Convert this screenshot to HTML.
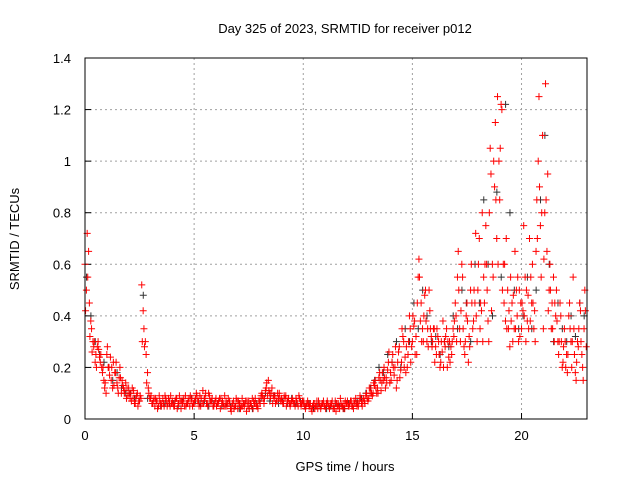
<!DOCTYPE html>
<html><head><meta charset="utf-8">
<style>
body{margin:0;background:#fff}
svg{display:block;font-family:"Liberation Sans",sans-serif;font-size:13px}
</style></head>
<body>
<svg id="chart" width="640" height="480" viewBox="0 0 640 480">
<rect width="640" height="480" fill="#fff"/>
<text x="345" y="33" text-anchor="middle">Day 325 of 2023, SRMTID for receiver p012</text>
<text x="345" y="471" text-anchor="middle">GPS time / hours</text>
<text transform="translate(19,239) rotate(-90)" text-anchor="middle">SRMTID / TECUs</text>
<g id="grid"></g>
<g id="axes"></g>
<g id="black"></g>
<g id="red"></g>
<rect x="85" y="58" width="502" height="361" fill="none" stroke="#000" stroke-width="1"/>
</svg>
<script>
const xTicks=[0,5,10,15,20];
const yTicks=[0,0.2,0.4,0.6,0.8,1,1.2,1.4];
const yTickLabels=["0","0.2","0.4","0.6","0.8","1","1.2","1.4"];
const startHour=0, stepHours=0.1;
const redA=[0.6,0.72,0.45,0.35,0.28,0.25,0.3,0.22,0.18,0.12,
0.25,0.2,0.15,0.22,0.18,0.12,0.2,0.15,0.1,0.08,
0.12,0.1,0.08,0.06,0.1,0.07,0.52,0.35,0.25,0.12,
0.08,0.06,0.05,0.07,0.09,0.05,0.06,0.08,0.06,0.05,
0.07,0.05,0.08,0.06,0.04,0.07,0.09,0.06,0.05,0.08,
0.06,0.1,0.07,0.05,0.11,0.08,0.06,0.09,0.07,0.05,
0.08,0.06,0.04,0.07,0.09,0.05,0.06,0.03,0.07,0.05,
0.04,0.06,0.08,0.05,0.03,0.07,0.06,0.04,0.08,0.05,
0.07,0.1,0.06,0.12,0.15,0.08,0.06,0.09,0.07,0.1,
0.08,0.06,0.09,0.07,0.05,0.08,0.06,0.07,0.09,0.05,
0.06,0.04,0.07,0.05,0.03,0.06,0.05,0.07,0.04,0.06,
0.05,0.07,0.04,0.06,0.05,0.03,0.06,0.08,0.05,0.04,
0.06,0.05,0.07,0.04,0.08,0.06,0.09,0.05,0.07,0.1,
0.08,0.12,0.1,0.15,0.12,0.18,0.14,0.2,0.16,0.22,
0.18,0.25,0.2,0.15,0.28,0.22,0.3,0.18,0.25,0.35,
0.3,0.38,0.25,0.62,0.45,0.3,0.5,0.35,0.42,0.28,
0.35,0.25,0.3,0.22,0.38,0.28,0.2,0.3,0.25,0.32,
0.4,0.65,0.3,0.55,0.25,0.45,0.32,0.6,0.38,0.72,
0.5,0.35,0.8,0.45,0.6,0.3,0.95,0.55,1.15,1.25,
0.85,1.2,0.45,0.7,0.35,0.55,0.3,0.65,0.4,0.5,
0.35,0.75,0.3,0.48,0.38,0.6,0.42,0.85,1.25,0.55,
0.35,1.3,0.95,0.6,0.45,0.3,0.5,0.25,0.4,0.22,
0.3,0.18,0.45,0.2,0.35,0.15,0.28,0.42,0.2,0.5];
const redB=[0.5,0.65,0.38,0.3,0.22,0.28,0.24,0.2,0.15,0.1,
0.2,0.24,0.12,0.18,0.14,0.16,0.1,0.12,0.14,0.09,
0.08,0.12,0.06,0.09,0.07,0.08,0.42,0.3,0.18,0.08,
0.06,0.08,0.07,0.05,0.06,0.08,0.09,0.05,0.07,0.06,
0.05,0.08,0.06,0.07,0.06,0.05,0.06,0.08,0.07,0.06,
0.08,0.07,0.09,0.06,0.08,0.06,0.1,0.07,0.05,0.07,
0.06,0.08,0.06,0.05,0.07,0.08,0.04,0.06,0.05,0.07,
0.06,0.05,0.06,0.07,0.05,0.06,0.08,0.06,0.05,0.07,
0.09,0.08,0.11,0.09,0.1,0.12,0.08,0.07,0.08,0.07,
0.06,0.08,0.07,0.06,0.07,0.06,0.08,0.05,0.06,0.07,
0.05,0.06,0.05,0.04,0.06,0.05,0.04,0.05,0.06,0.05,
0.06,0.05,0.06,0.04,0.07,0.05,0.04,0.05,0.06,0.06,
0.05,0.07,0.05,0.06,0.05,0.07,0.06,0.08,0.09,0.07,
0.1,0.09,0.13,0.1,0.16,0.11,0.15,0.12,0.19,0.14,
0.22,0.17,0.12,0.26,0.19,0.32,0.24,0.2,0.4,0.28,
0.36,0.32,0.55,0.38,0.35,0.48,0.3,0.5,0.32,0.35,
0.28,0.32,0.2,0.26,0.3,0.35,0.24,0.28,0.35,0.45,
0.55,0.35,0.6,0.28,0.4,0.22,0.5,0.35,0.45,0.3,
0.7,0.42,0.55,0.75,0.38,1.05,0.6,0.9,0.7,1.0,
1.22,0.6,0.38,0.5,0.28,0.45,0.35,0.5,0.3,0.45,
0.42,0.55,0.38,0.7,0.45,0.35,0.65,1.0,0.75,1.1,
0.8,0.65,0.5,0.35,0.55,0.4,0.3,0.45,0.2,0.35,
0.25,0.4,0.3,0.55,0.18,0.3,0.45,0.25,0.35,0.28];
const redC=[0.42,0.55,0.32,0.26,0.3,0.2,0.27,0.25,0.2,0.14,
0.28,0.17,0.2,0.13,0.22,0.1,0.16,0.13,0.11,0.12,
0.1,0.07,0.11,0.08,0.05,0.09,0.3,0.28,0.14,0.1,
0.09,0.07,0.08,0.04,0.07,0.06,0.05,0.07,0.08,0.09,
0.06,0.07,0.04,0.09,0.07,0.08,0.05,0.07,0.09,0.05,
0.07,0.09,0.05,0.08,0.06,0.1,0.05,0.07,0.08,0.06,
0.05,0.07,0.08,0.06,0.05,0.06,0.07,0.05,0.04,0.08,
0.07,0.04,0.05,0.06,0.07,0.04,0.05,0.07,0.06,0.04,
0.06,0.09,0.08,0.14,0.11,0.1,0.09,0.06,0.1,0.08,
0.07,0.09,0.05,0.08,0.06,0.07,0.05,0.06,0.08,0.06,
0.07,0.05,0.06,0.06,0.05,0.04,0.07,0.06,0.05,0.07,
0.04,0.06,0.05,0.07,0.04,0.06,0.05,0.06,0.04,0.07,
0.07,0.06,0.05,0.07,0.06,0.05,0.08,0.07,0.06,0.08,
0.12,0.1,0.14,0.12,0.1,0.15,0.18,0.16,0.14,0.26,
0.15,0.2,0.28,0.22,0.16,0.35,0.2,0.28,0.3,0.22,
0.4,0.25,0.45,0.55,0.3,0.4,0.38,0.28,0.35,0.3,
0.22,0.35,0.25,0.3,0.2,0.32,0.3,0.22,0.3,0.38,
0.3,0.5,0.42,0.35,0.3,0.38,0.28,0.45,0.5,0.4,
0.6,0.45,0.3,0.6,0.5,0.8,0.42,1.0,0.85,0.6,
1.05,0.5,0.6,0.35,0.42,0.38,0.48,0.35,0.55,0.32,
0.45,0.4,0.5,0.35,0.55,0.45,0.3,0.7,0.9,0.8,
0.62,0.85,0.42,0.5,0.35,0.45,0.38,0.3,0.3,0.28,
0.2,0.25,0.35,0.3,0.25,0.22,0.35,0.3,0.15,0.42];
const blackA=[0.55,0.4,0.3,0.25,0.22,0.2,0.15,0.18,0.12,0.1,
0.1,0.08,0.07,0.48,0.08,0.06,0.07,0.05,0.06,0.06,
0.06,0.05,0.07,0.06,0.08,0.07,0.06,0.07,0.05,0.06,
0.06,0.05,0.06,0.05,0.05,0.04,0.06,0.05,0.04,0.06,
0.08,0.1,0.07,0.09,0.06,0.07,0.06,0.08,0.06,0.07,
0.05,0.06,0.04,0.05,0.06,0.04,0.05,0.06,0.05,0.04,
0.06,0.05,0.07,0.08,0.1,0.12,0.15,0.2,0.18,0.25,
0.22,0.3,0.2,0.35,0.3,0.45,0.35,0.5,0.4,0.3,
0.32,0.25,0.3,0.28,0.4,0.35,0.5,0.45,0.3,0.6,
0.45,0.85,0.6,0.4,0.88,0.55,1.22,0.8,0.5,0.35,
0.4,0.55,0.35,0.5,0.85,1.1,0.6,0.3,0.45,0.35,
0.3,0.4,0.32,0.45,0.4];
const NS="http://www.w3.org/2000/svg";
const X0=85,X1=587,Y0=419,Y1=58,XMAX=23,YMAX=1.4;
function xs(v){return X0+(v/XMAX)*(X1-X0);}
function ys(v){return Y0-(v/YMAX)*(Y0-Y1);}
const grid=document.getElementById('grid'), axes=document.getElementById('axes');
function ln(p,x1,y1,x2,y2,st,dash){const l=document.createElementNS(NS,'line');l.setAttribute('x1',x1);l.setAttribute('y1',y1);l.setAttribute('x2',x2);l.setAttribute('y2',y2);l.setAttribute('stroke',st);if(dash)l.setAttribute('stroke-dasharray',dash);p.appendChild(l);return l;}
xTicks.forEach((t,i)=>{const x=xs(t);
 if(t>0){const g=ln(grid,x,Y1,x,Y0,'#a0a0a0','2,3');
 
 }
 const tk=ln(axes,x,Y0,x,Y0-6,'#000');
 
 
 const tx=document.createElementNS(NS,'text');tx.setAttribute('x',x);tx.setAttribute('y',Y0+21);tx.setAttribute('text-anchor','middle');tx.textContent=String(t);
 
 
 axes.appendChild(tx);});
yTicks.forEach((t,i)=>{const y=ys(t);
 if(t>0&&t<YMAX){const g=ln(grid,X0,y,X1,y,'#a0a0a0','2,3');
 
 }
 const tk=ln(axes,X0,y,X0+6,y,'#000');
 
 
 const tx=document.createElementNS(NS,'text');tx.setAttribute('x',X0-14);tx.setAttribute('y',y+5);tx.setAttribute('text-anchor','end');tx.textContent=yTickLabels[i];
 
 
 axes.appendChild(tx);});
function plus(p,t,v,col){const x=xs(t),y=ys(v);
 const path=document.createElementNS(NS,'path');
 path.setAttribute('d',`M${x-3.5},${y}h7M${x},${y-3.5}v7`);
 path.setAttribute('stroke',col);path.setAttribute('fill','none');
 
 
 p.appendChild(path);}
const bg=document.getElementById('black'), rg=document.getElementById('red');
blackA.forEach((v,i)=>plus(bg,startHour+i*stepHours*2+0.07,v,'#333'));
redC.forEach((v,i)=>plus(rg,startHour+i*stepHours+0.025,v,'#ff0000'));
redB.forEach((v,i)=>plus(rg,startHour+i*stepHours+0.065,v,'#ff0000'));
redA.forEach((v,i)=>plus(rg,startHour+i*stepHours,v,'#ff0000'));
</script>
</body></html>
